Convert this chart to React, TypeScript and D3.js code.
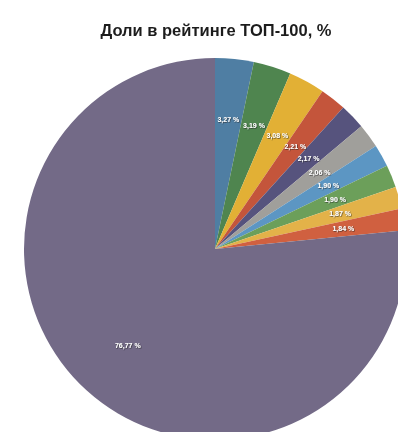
import { useRef, useEffect } from 'react';
import * as d3 from 'd3';

const TITLE = 'Доли в рейтинге ТОП-100, %';
const LABELS = ['3,27 %', '3,19 %', '3,08 %', '2,21 %', '2,17 %', '2,06 %', '1,90 %', '1,90 %', '1,87 %', '1,84 %', '76,77 %'];
const VALUES = [3.27, 3.19, 3.08, 2.21, 2.17, 2.06, 1.9, 1.9, 1.87, 1.84, 76.77];
const COLORS = ['#4f7ea3', '#4f8550', '#e2b035', '#c4553b', '#57527d', '#a09f9b', '#5c96c3', '#6c9f5a', '#e3b24a', '#d0613f', '#736a87'];

export default function App() {
  const ref = useRef<SVGSVGElement>(null);

  useEffect(() => {
    const svg = ref.current;
    if (!svg) return;
    const W = 406, H = 440;
    const cx = 215, cy = 249, R = 191;

    d3.select(svg).selectAll('*').remove();
    const root = d3.select(svg).attr('width', W).attr('height', H).attr('viewBox', `0 0 ${W} ${H}`);

    const defs = root.append('defs');
    defs.append('filter').attr('id', 'soft').attr('x', '-5%').attr('y', '-5%').attr('width', '110%').attr('height', '110%')
      .append('feGaussianBlur').attr('stdDeviation', 0.6);
    const sh = defs.append('filter').attr('id', 'shadow');
    sh.append('feDropShadow').attr('dx', 0.6).attr('dy', 0.6).attr('stdDeviation', 0.5).attr('flood-color', '#222').attr('flood-opacity', 0.9);

    const g = root.append('g').attr('filter', 'url(#soft)');

    g.append('text').attr('x', 216).attr('y', 36).attr('text-anchor', 'middle')
      .attr('font-family', 'Liberation Sans, Arial, sans-serif').attr('font-weight', 'bold').attr('font-size', 16.5)
      .attr('fill', '#1e1e1e').text(TITLE);

    const data = VALUES.map((v, i) => ({ v, label: LABELS[i], color: COLORS[i] }));
    const pie = d3.pie<{ v: number; label: string; color: string }>().sort(null).value((d) => d.v);
    const arcs = pie(data);
    const arc = d3.arc<d3.PieArcDatum<{ v: number; label: string; color: string }>>().innerRadius(0).outerRadius(R);
    const labelArc = d3.arc<d3.PieArcDatum<{ v: number; label: string; color: string }>>().innerRadius(R * 0.68).outerRadius(R * 0.68);

    const pg = g.append('g').attr('transform', `translate(${cx},${cy})`);
    pg.selectAll('path').data(arcs).join('path')
      .attr('d', arc).attr('fill', (d) => d.data.color);

    pg.selectAll('text').data(arcs).join('text')
      .attr('transform', (d) => `translate(${labelArc.centroid(d)})`)
      .attr('text-anchor', 'middle').attr('dy', '0.35em')
      .attr('font-family', 'Liberation Sans, Arial, sans-serif').attr('font-weight', 'bold').attr('font-size', 7)
      .attr('fill', '#fff').attr('filter', 'url(#shadow)')
      .text((d) => d.data.label);
  }, []);

  return (
    <div style={{ margin: -8 }}>
      <svg ref={ref} style={{ display: 'block', background: '#fff' }} />
    </div>
  );
}
